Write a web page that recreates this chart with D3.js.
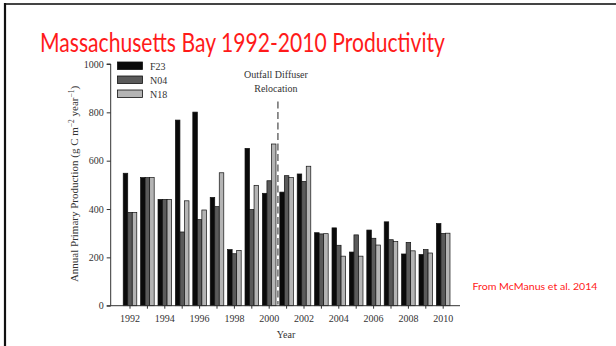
<!DOCTYPE html>
<html><head><meta charset="utf-8">
<script src="https://cdn.jsdelivr.net/npm/d3@7"></script>
<style>body{margin:0;background:#fff}svg{display:block}</style>
</head><body>
<script>
const years = [1992,1993,1994,1995,1996,1997,1998,1999,2000,2001,2002,2003,2004,2005,2006,2007,2008,2009,2010];
const seriesNames = ["F23","N04","N18"];
const F23 = [548,530,440,768,801,448,232,651,465,470,545,302,322,222,313,347,214,212,340];
const N04 = [386,530,440,305,356,410,215,398,517,538,514,297,250,293,279,273,262,232,299];
const N18 = [386,530,440,434,396,550,229,498,669,530,577,298,205,205,251,265,227,218,300];
const yTicks = [0,200,400,600,800,1000];
const xTickLabels = [1992,1994,1996,1998,2000,2002,2004,2006,2008,2010];
const colors = {F23:"#0a0a0a", N04:"#5a5a5a", N18:"#b4b4b4"};

const W=616,H=346;
const svg=d3.select("body").append("svg").attr("width",W).attr("height",H);

// slide border
svg.append("line").attr("x1",5).attr("x2",W).attr("y1",4).attr("y2",4).attr("stroke","#444").attr("stroke-width",2);
svg.append("line").attr("x1",5).attr("x2",5).attr("y1",3).attr("y2",H).attr("stroke","#111").attr("stroke-width",2.2);

// title
svg.append("text").attr("x",40).attr("y",52).text("Massachusetts Bay 1992-2010 Productivity")
  .attr("font-family","Lato, 'Open Sans', sans-serif").attr("font-size",27.5).attr("fill","#ff1a1a")
  .attr("textLength",405).attr("lengthAdjust","spacingAndGlyphs");

svg.append("text").attr("x",472.5).attr("y",289.5).text("From McManus et al. 2014")
  .attr("font-family","Lato, 'Open Sans', sans-serif").attr("font-size",9.3).attr("fill","#ff2020")
  .attr("textLength",125).attr("lengthAdjust","spacingAndGlyphs");

const step = (443.2-130)/18;
const x = d3.scaleBand().domain(years).range([130-step/2, 443.2+step/2]).paddingInner(0.22).paddingOuter(0.11);
const xs = d3.scaleBand().domain(seriesNames).range([0,x.bandwidth()]);
const y = d3.scaleLinear().domain([0,1000]).range([305.7,64]);

const serif="'Liberation Serif','DejaVu Serif',serif";
const data = {F23,N04,N18};

// bars
const g = svg.append("g");
seriesNames.forEach(s=>{
  g.selectAll(null).data(years.map((yr,i)=>({yr,v:data[s][i]}))).enter().append("rect")
    .attr("x",d=>x(d.yr)+xs(s)).attr("width",xs.bandwidth())
    .attr("y",d=>y(d.v)).attr("height",d=>y(0)-y(d.v))
    .attr("fill",colors[s]).attr("stroke","#111").attr("stroke-width",0.7);
});

// dashed relocation line
const xDash = (x(2000)+x(2001)+x.bandwidth())/2;
svg.append("line").attr("x1",xDash).attr("x2",xDash).attr("y1",y(845)).attr("y2",y(5))
  .attr("stroke","#777").attr("stroke-width",1.6).attr("stroke-dasharray","7,3.5");
svg.append("text").attr("x",xDash-2).attr("y",78).attr("text-anchor","middle").text("Outfall Diffuser")
  .attr("font-family",serif).attr("font-size",10).attr("fill","#333");
svg.append("text").attr("x",xDash-2).attr("y",92).attr("text-anchor","middle").text("Relocation")
  .attr("font-family",serif).attr("font-size",10).attr("fill","#333");

// y axis
const yAxis = d3.axisLeft(y).tickValues(yTicks).tickSize(4).tickPadding(3).tickFormat(d3.format("d"));
const ya = svg.append("g").attr("transform","translate(110.7,0)").call(yAxis);
ya.select(".domain").attr("d",`M-4,${y(1000)}H0V${y(0)}`);
ya.selectAll("text").attr("font-family",serif).attr("font-size",10).attr("fill","#333");
ya.selectAll("line,path").attr("stroke","#333");

// x axis
const xAxis = d3.axisBottom(x).tickValues(years).tickSize(3).tickPadding(6)
  .tickFormat(d=>xTickLabels.includes(d)?d:"");
const xa = svg.append("g").attr("transform",`translate(0,${y(0)})`).call(xAxis);
xa.select(".domain").attr("d","M106.7,0H460");
xa.selectAll("text").attr("font-family",serif).attr("font-size",10).attr("fill","#333");
xa.selectAll("line,path").attr("stroke","#333");

svg.append("text").attr("x",286).attr("y",338).attr("text-anchor","middle").text("Year")
  .attr("font-family",serif).attr("font-size",10).attr("fill","#333");

// y label
const yl = svg.append("text").attr("transform","translate(78,184) rotate(-90)").attr("text-anchor","middle")
  .attr("font-family",serif).attr("font-size",11).attr("fill","#333");
yl.append("tspan").text("Annual Primary Production (g C m");
yl.append("tspan").attr("baseline-shift","super").attr("font-size",7.5).text("\u22122");
yl.append("tspan").text(" year");
yl.append("tspan").attr("baseline-shift","super").attr("font-size",7.5).text("\u22121");
yl.append("tspan").text(")");

// legend
const lg = svg.append("g");
seriesNames.forEach((s,i)=>{
  lg.append("rect").attr("x",117.5).attr("y",62+i*14).attr("width",25).attr("height",7.5)
    .attr("fill",colors[s]).attr("stroke","#111").attr("stroke-width",0.8);
  lg.append("text").attr("x",150).attr("y",69.5+i*14).text(s)
    .attr("font-family",serif).attr("font-size",10).attr("fill","#333");
});
</script>
</body></html>
